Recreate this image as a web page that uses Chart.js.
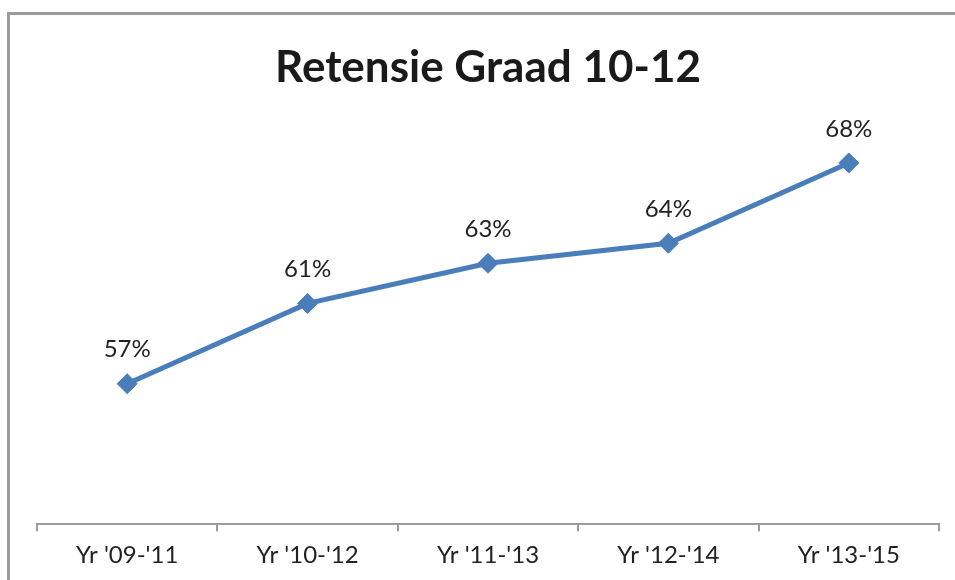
<!DOCTYPE html>
<html>
<head>
<meta charset="utf-8">
<script src="https://cdn.jsdelivr.net/npm/chart.js@4"></script>
<style>
  html, body { margin: 0; padding: 0; background: #fff; }
  #wrap { width: 955px; height: 580px; }
</style>
</head>
<body>
<div id="wrap"><canvas id="retention"></canvas></div>
<script>
const periods = ["Yr '09-'11", "Yr '10-'12", "Yr '11-'13", "Yr '12-'14", "Yr '13-'15"];
const retention = [57, 61, 63, 64, 68];
const yRange = [50, 70];

const FONT = 'Lato, "Open Sans", sans-serif';

// frame lines and value labels drawn by hand, no datalabels plugin offline
const frameAndLabels = {
    id: 'frameAndLabels',
    beforeDraw(chart) {
        const ctx = chart.ctx;
        ctx.save();
        ctx.strokeStyle = '#9b9b9b';
        ctx.lineWidth = 3;
        ctx.beginPath();
        ctx.moveTo(8.5, 580);
        ctx.lineTo(8.5, 13.5);
        ctx.lineTo(955, 13.5);
        ctx.stroke();
        ctx.restore();
    },
    afterDatasetsDraw(chart) {
        const ctx = chart.ctx;
        const meta = chart.getDatasetMeta(0);
        ctx.save();
        ctx.font = '24px ' + FONT;
        ctx.fillStyle = '#222';
        ctx.textAlign = 'center';
        ctx.textBaseline = 'middle';
        meta.data.forEach((pt, i) => {
            ctx.fillText(retention[i] + '%', pt.x, pt.y - 34);
        });
        ctx.restore();
    }
};

new Chart(document.querySelector('#retention'), {
    type: 'line',
    data: {
        labels: periods,
        datasets: [{
            data: retention,
            borderColor: '#4a7ebb',
            backgroundColor: '#4a7ebb',
            borderWidth: 5,
            tension: 0,
            pointStyle: 'rectRot',
            pointRadius: 10,
            pointHoverRadius: 10,
            pointBorderWidth: 1,
            pointBorderColor: '#4a7ebb',
            pointBackgroundColor: '#4a7ebb'
        }]
    },
    options: {
        responsive: true,
        maintainAspectRatio: false,
        animation: false,
        layout: { padding: { left: 37, right: 16, top: 0, bottom: 0 } },
        plugins: {
            legend: { display: false },
            tooltip: { enabled: false },
            title: {
                display: true,
                text: 'Retensie Graad 10-12',
                color: '#1a1a1a',
                font: { family: FONT, size: 44, weight: 'bold' },
                padding: { top: 41, bottom: 29 }
            }
        },
        scales: {
            x: {
                offset: true,
                grid: {
                    offset: true,
                    drawOnChartArea: false,
                    drawTicks: true,
                    tickLength: 7,
                    color: '#9b9b9b',
                    lineWidth: 2
                },
                border: { color: '#9b9b9b', width: 2 },
                ticks: {
                    color: '#222',
                    padding: 10,
                    maxRotation: 0,
                    font: { family: FONT, size: 24 }
                }
            },
            y: {
                display: false,
                min: yRange[0],
                max: yRange[1]
            }
        }
    },
    plugins: [frameAndLabels]
});
</script>
</body>
</html>
